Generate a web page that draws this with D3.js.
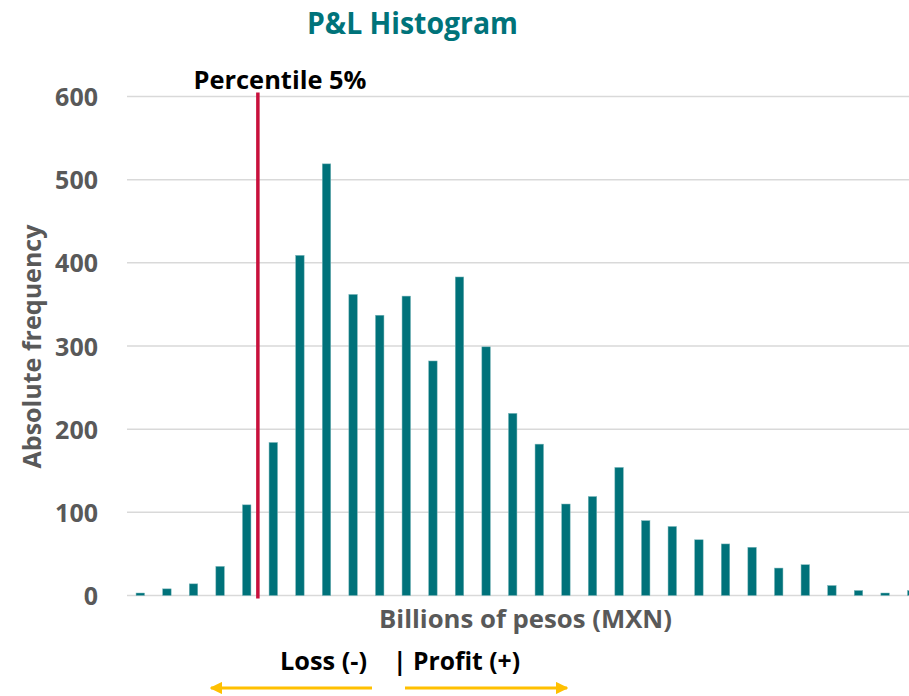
<!DOCTYPE html>
<html>
<head>
<meta charset="utf-8">
<script src="https://cdn.jsdelivr.net/npm/d3@7"></script>
<style>
  body { margin: 0; background: #fff; }
  svg { display: block; font-family: "Open Sans", Lato, sans-serif; font-weight: bold; }
</style>
</head>
<body>
<div id="chart"></div>
<script>
// frequencies, one per bin (left = loss, right = profit)
var frequencies = [3, 8, 14, 35, 109, 184, 409, 519, 362, 337, 360, 282, 383, 299, 219,
                   182, 110, 119, 154, 90, 83, 67, 62, 58, 33, 37, 12, 6, 3, 6];
var bins = frequencies.map(function(d, i){ return "b" + (i + 1); });
var yTicks = [0, 100, 200, 300, 400, 500, 600];
var percentileBin = 4.42;   // fractional bin position of the 5% percentile

var width = 909, height = 696;
var margin = {top: 96.5, left: 127, bottom: 100.5};
var plotWidth = 798;   // runs past the right edge, last bar is cut like the original

var svg = d3.select("#chart").append("svg")
    .attr("width", width).attr("height", height);

var x = d3.scaleBand()
    .domain(bins)
    .range([margin.left, margin.left + plotWidth])
    .paddingInner(0.68)
    .paddingOuter(0.34);

var y = d3.scaleLinear()
    .domain([0, 600])
    .range([height - margin.bottom, margin.top]);

// gridlines
svg.append("g")
  .selectAll("line")
  .data(yTicks)
  .join("line")
    .attr("x1", margin.left)
    .attr("x2", width)
    .attr("y1", d => y(d))
    .attr("y2", d => y(d))
    .attr("stroke", "#d9d9d9")
    .attr("stroke-width", 1.5);

// y axis labels
var yAxis = svg.append("g")
    .attr("transform", "translate(98,0)")
    .call(d3.axisLeft(y).tickValues(yTicks).tickSize(0).tickPadding(0));
yAxis.select(".domain").remove();
yAxis.selectAll("text")
    .attr("fill", "#595959")
    .attr("font-size", 25)
    .attr("font-family", "'Open Sans', sans-serif")
    .attr("font-weight", "bold")
    .attr("dy", "0.36em");

// bars
svg.append("g")
  .selectAll("rect")
  .data(frequencies)
  .join("rect")
    .attr("x", (d, i) => x(bins[i]))
    .attr("width", x.bandwidth())
    .attr("y", d => y(d))
    .attr("height", d => y(0) - y(d))
    .attr("fill", "#00727a")
    .attr("stroke", "#7fb8bc")
    .attr("stroke-width", 0.5);

// percentile line
var px = x(bins[0]) + x.bandwidth() / 2 + percentileBin * x.step();
svg.append("line")
    .attr("x1", px).attr("x2", px)
    .attr("y1", y(600) - 4).attr("y2", y(0) + 3)
    .attr("stroke", "#c8103c")
    .attr("stroke-width", 3.5);

function label(txt, xx, yy, size, color, anchor, len) {
  return svg.append("text")
      .attr("x", xx).attr("y", yy)
      .attr("text-anchor", anchor)
      .attr("font-size", size)
      .attr("fill", color)
      .attr("textLength", len)
      .attr("lengthAdjust", "spacingAndGlyphs")
      .text(txt);
}

label("Percentile 5%", 280, 89, 24.5, "#000", "middle", 173);
label("P&L Histogram", 412.5, 34, 29.5, "#00737a", "middle", 211);
label("Billions of pesos (MXN)", 525.5, 628, 25.5, "#595959", "middle", 293);
label("Loss (-)", 280, 670, 25, "#000", "start", 87);
label("| Profit (+)", 393, 670, 25, "#000", "start", 127);

label("Absolute frequency", 0, 0, 25.5, "#595959", "middle", 244)
    .attr("transform", "translate(41,346.5) rotate(-90)");

// arrows under the loss / profit note
var defs = svg.append("defs");
defs.append("marker")
    .attr("id", "arrow")
    .attr("viewBox", "0 0 10 10")
    .attr("refX", 9).attr("refY", 5)
    .attr("markerWidth", 4.2).attr("markerHeight", 4.2)
    .attr("orient", "auto")
  .append("path")
    .attr("d", "M0,0 L10,5 L0,10 z")
    .attr("fill", "#ffc000");

svg.append("line")
    .attr("x1", 372).attr("x2", 211)
    .attr("y1", 688).attr("y2", 688)
    .attr("stroke", "#ffc000").attr("stroke-width", 3)
    .attr("marker-end", "url(#arrow)");

svg.append("line")
    .attr("x1", 405).attr("x2", 567)
    .attr("y1", 688).attr("y2", 688)
    .attr("stroke", "#ffc000").attr("stroke-width", 3)
    .attr("marker-end", "url(#arrow)");
</script>
</body>
</html>
